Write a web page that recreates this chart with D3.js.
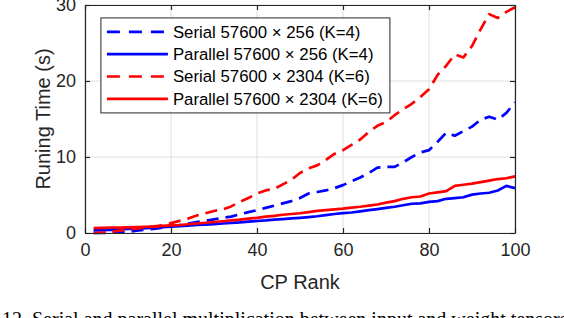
<!DOCTYPE html>
<html>
<head>
<meta charset="utf-8">
<script src="https://cdn.jsdelivr.net/npm/d3@7"></script>
<style>
  html, body { margin: 0; padding: 0; background: #fff; }
  svg { display: block; }
  .tick text { font-family: "Liberation Sans", Arial, sans-serif; fill: #262626; }
</style>
</head>
<body>
<svg id="chart" width="564" height="318"></svg>
<script>
//

const ranks = [2, 4, 6, 8, 10, 12, 14, 16, 18, 20, 22, 24, 26, 28, 30, 32, 34, 36, 38, 40,
  42, 44, 46, 48, 50, 52, 54, 56, 58, 60, 62, 64, 66, 68, 70, 72, 74, 76, 78, 80,
  82, 84, 86, 88, 90, 92, 94, 96, 98, 100]

const serialK4 = [0.0, 0.0, 0.05, 0.1, 0.15, 0.3, 0.45, 0.55, 0.7, 0.85, 1.05, 1.25, 1.45, 1.6, 1.8, 2.0, 2.15, 2.45, 2.75, 3.0,
  3.3, 3.6, 3.9, 4.2, 4.6, 5.2, 5.4, 5.6, 5.9, 6.3, 6.8, 7.3, 7.9, 8.6, 8.7, 8.7, 9.3, 10.0, 10.6, 10.9,
  12.0, 13.2, 12.8, 13.4, 14.0, 14.9, 15.3, 14.9, 15.8, 17.2]

const parallelK4 = [0.35, 0.38, 0.42, 0.48, 0.53, 0.58, 0.63, 0.7, 0.78, 0.85, 0.9, 0.97, 1.05, 1.1, 1.18, 1.25, 1.33, 1.4, 1.5, 1.58,
  1.65, 1.75, 1.83, 1.92, 2.0, 2.1, 2.2, 2.35, 2.5, 2.62, 2.7, 2.85, 3.0, 3.15, 3.3, 3.45, 3.65, 3.85, 3.9, 4.1,
  4.2, 4.5, 4.6, 4.7, 5.05, 5.2, 5.3, 5.6, 6.2, 5.9]

const serialK6 = [0.0, 0.05, 0.15, 0.3, 0.45, 0.6, 0.7, 0.8, 1.0, 1.3, 1.6, 1.9, 2.3, 2.6, 2.9, 3.1, 3.5, 4.1, 4.6, 5.2,
  5.6, 5.8, 6.4, 7.0, 7.9, 8.5, 8.9, 9.6, 10.4, 10.9, 11.6, 12.3, 13.3, 14.1, 14.6, 15.5, 16.3, 17.0, 17.9, 18.9,
  20.8, 22.0, 23.5, 23.1, 24.6, 26.8, 28.8, 28.3, 29.1, 29.7]

const parallelK6 = [0.65, 0.68, 0.7, 0.72, 0.75, 0.78, 0.82, 0.87, 0.93, 1.0, 1.05, 1.15, 1.25, 1.35, 1.45, 1.55, 1.65, 1.75, 1.9, 2.0,
  2.15, 2.25, 2.4, 2.5, 2.6, 2.75, 2.9, 3.0, 3.1, 3.2, 3.35, 3.45, 3.6, 3.75, 4.0, 4.2, 4.5, 4.7, 4.8, 5.2,
  5.35, 5.5, 6.2, 6.35, 6.5, 6.7, 6.9, 7.1, 7.2, 7.45]

const seriesNames = [
  'Serial 57600 \u00d7 256 (K=4)',
  'Parallel 57600 \u00d7 256 (K=4)',
  'Serial 57600 \u00d7 2304 (K=6)',
  'Parallel 57600 \u00d7 2304 (K=6)'
]
const seriesColors = ['#0000ff', '#0000ff', '#ff0000', '#ff0000']
const seriesDashed = [true, false, true, false]
const seriesValues = [serialK4, parallelK4, serialK6, parallelK6]

const xTicks = [0, 20, 40, 60, 80, 100]
const yTicks = [0, 10, 20, 30]

//

const margin = {top: 5, right: 49, bottom: 85, left: 85}
const width = 564 - margin.left - margin.right
const height = 318 - margin.top - margin.bottom
const font = '"Liberation Sans", Arial, Helvetica, sans-serif'
const axisColor = '#262626'
const dash = '12,7'

const svg = d3.select('#chart')
const g = svg.append('g')
  .attr('transform', `translate(${margin.left},${margin.top})`)

const x = d3.scaleLinear().domain([0, 100]).range([0, width])
const y = d3.scaleLinear().domain([0, 30]).range([height, 0])

// grid
g.append('g')
  .selectAll('line.vgrid')
  .data(xTicks)
  .join('line')
  .attr('x1', (d) => x(d)).attr('x2', (d) => x(d))
  .attr('y1', 0).attr('y2', height)
  .attr('stroke', '#dfdfdf')
  .attr('stroke-width', 1)

g.append('g')
  .selectAll('line.hgrid')
  .data(yTicks)
  .join('line')
  .attr('x1', 0).attr('x2', width)
  .attr('y1', (d) => y(d)).attr('y2', (d) => y(d))
  .attr('stroke', '#dfdfdf')
  .attr('stroke-width', 1)

// lines
const line = d3.line()
  .x((d) => x(d[0]))
  .y((d) => y(d[1]))

seriesValues.forEach((vals, i) => {
  g.append('path')
    .datum(ranks.map((r, j) => [r, vals[j]]))
    .attr('d', line)
    .attr('fill', 'none')
    .attr('stroke', seriesColors[i])
    .attr('stroke-width', 2.7)
    .attr('stroke-linejoin', 'round')
    .attr('stroke-dasharray', seriesDashed[i] ? dash : null)
})

// axes (MATLAB style, ticks inward, box on)
const tickLen = 5
const xAxis = g.append('g')
  .attr('transform', `translate(0,${height})`)
  .call(d3.axisBottom(x).tickValues(xTicks).tickSizeInner(-tickLen).tickSizeOuter(0).tickPadding(10))
const yAxis = g.append('g')
  .call(d3.axisLeft(y).tickValues(yTicks).tickSizeInner(-tickLen).tickSizeOuter(0).tickPadding(9))
const xTop = g.append('g')
  .call(d3.axisTop(x).tickValues(xTicks).tickSizeInner(-tickLen).tickSizeOuter(0).tickFormat(''))
const yRight = g.append('g')
  .attr('transform', `translate(${width},0)`)
  .call(d3.axisRight(y).tickValues(yTicks).tickSizeInner(-tickLen).tickSizeOuter(0).tickFormat(''))

;[xAxis, yAxis, xTop, yRight].forEach((a) => {
  a.select('.domain').attr('stroke', axisColor).attr('stroke-width', 1.2)
  a.selectAll('.tick line').attr('stroke', axisColor).attr('stroke-width', 1.2)
  a.selectAll('.tick text')
    .attr('font-family', font)
    .attr('font-size', 18)
    .attr('fill', axisColor)
})

// axis labels
g.append('text')
  .attr('x', width / 2)
  .attr('y', height + 56)
  .attr('text-anchor', 'middle')
  .attr('font-family', font)
  .attr('font-size', 20)
  .attr('fill', axisColor)
  .text('CP Rank')

g.append('text')
  .attr('transform', `translate(${-margin.left + 50},${height / 2}) rotate(-90)`)
  .attr('text-anchor', 'middle')
  .attr('font-family', font)
  .attr('font-size', 20)
  .attr('fill', axisColor)
  .text('Runing Time (s)')

// legend
const legend = g.append('g')
  .attr('transform', `translate(${x(3.7)},${y(28.3)})`)

legend.append('rect')
  .attr('width', 289)
  .attr('height', 95)
  .attr('fill', '#fff')
  .attr('stroke', axisColor)
  .attr('stroke-width', 1)

const rows = legend.selectAll('g.row')
  .data(seriesNames)
  .join('g')
  .attr('transform', (d, i) => `translate(0,${14 + i * 22.3})`)

rows.append('line')
  .attr('x1', 6).attr('x2', 67)
  .attr('stroke', (d, i) => seriesColors[i])
  .attr('stroke-width', 2.7)
  .attr('stroke-dasharray', (d, i) => seriesDashed[i] ? '13,9' : null)

rows.append('text')
  .attr('x', 72)
  .attr('dy', '0.35em')
  .attr('font-family', font)
  .attr('font-size', 16.8)
  .attr('fill', '#000')
  .text((d) => d)

// caption (cut off by the frame)
svg.append('text')
  .attr('x', 2)
  .attr('y', 326)
  .attr('font-family', '"Liberation Serif", "Times New Roman", serif')
  .attr('font-size', 20)
  .attr('fill', '#000')
  .text('12. Serial and parallel multiplication between input and weight tensors')
</script>
</body>
</html>
